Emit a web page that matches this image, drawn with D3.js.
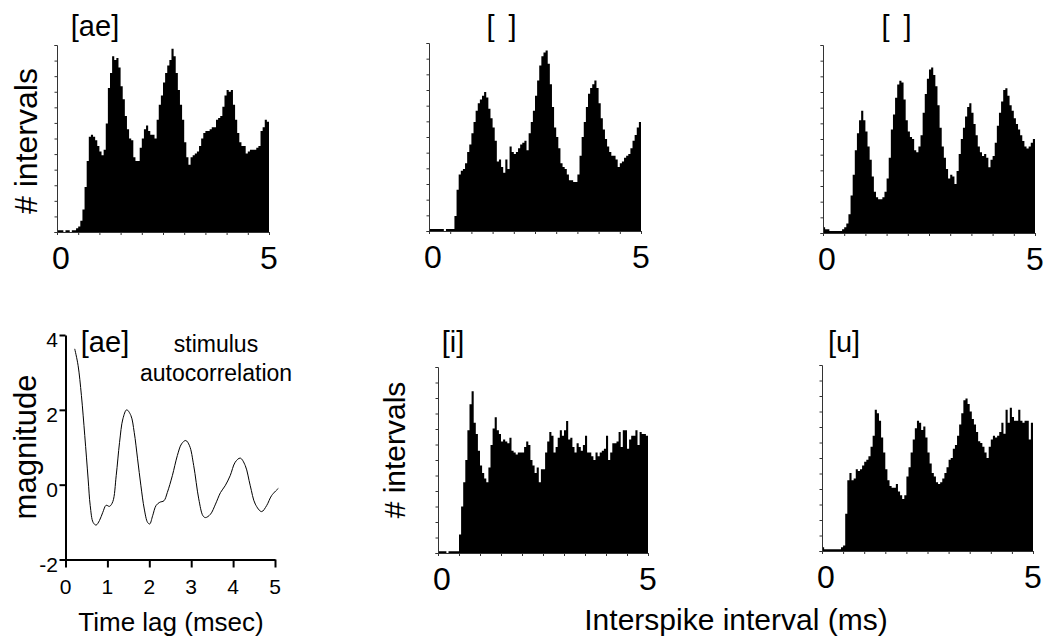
<!DOCTYPE html>
<html><head><meta charset="utf-8">
<script src="https://cdn.jsdelivr.net/npm/d3@7"></script>
<style>
body{margin:0;background:#fff}
text{font-family:"Liberation Sans",Arial,Helvetica,sans-serif;fill:#000}
</style>
</head><body>
<svg id="chart" width="1045" height="638"></svg>
<script>
// ---------- data ----------
const binWidth = 0.05;          // ms per histogram bin
const histTitles = ["[ae]", "[ ]", "[ ]", "[i]", "[u]"];
const histTickLabels = ["0", "5"];

const isiAE = [1,1,1,0,1,1,0,1,1,2, 3,6,12,24,38,51,52,51,49,46, 43,41,44,58,77,85,94,92,93,88,
  78,71,62,55,50,49,40,38,38,45, 50,55,57,54,52,52,50,60,68,73, 80,85,89,92,98,94,85,76,68,60,
  48,40,36,40,41,42,43,46,50,53, 54,54,55,56,56,60,61,62,67,73, 76,75,76,68,60,53,48,46,46,42,
  43,44,44,44,45,46,54,56,60,59];
const isiB = [1,1,1,1,1,1,1,0,1,1, 1,1,8,22,30,32,33,36,42,46, 52,58,64,68,70,72,74,71,65,60,
  55,48,37,38,34,31,38,33,45,42, 41,42,44,46,47,48,43,52,58,64, 72,80,88,93,95,96,89,78,66,55,
  50,44,36,34,33,30,27,27,26,26, 30,40,50,58,66,73,76,78,80,76, 68,60,54,49,45,42,40,40,38,34,
  36,37,39,40,41,44,48,51,55,58];
const isiC = [3,2,2,1,1,1,1,1,1,2, 3,5,10,20,31,44,53,60,65,60, 54,46,39,30,22,19,18,18,19,22,
  29,40,55,63,72,79,81,80,71,60, 54,51,50,44,43,46,52,64,74,82, 87,88,84,78,68,56,46,40,34,29,
  31,30,26,33,42,50,56,62,67,69, 64,58,52,46,43,41,42,40,35,39, 41,48,57,64,70,76,77,73,68,65,
  61,58,55,52,49,46,45,46,48,50];
const isiI = [1,1,1,1,0,1,1,1,1,1, 10,25,38,50,66,80,87,70,64,55, 47,43,40,38,46,58,67,73,66,64,
  60,61,60,59,62,55,54,53,54,54, 54,57,60,58,50,47,43,46,38,45, 45,54,60,65,63,54,57,62,66,63,
  66,71,61,62,57,54,59,57,55,58, 63,54,54,52,50,54,52,54,55,56, 63,50,54,59,59,60,65,57,66,66,
  56,61,63,63,66,58,65,64,64,63];
const isiU = [2,1,1,1,1,1,1,1,1,2, 3,20,38,42,38,39,44,43,44,46, 48,49,51,56,62,76,74,70,61,53,
  44,38,35,34,34,36,32,30,28,30, 40,45,53,60,66,70,69,65,67,61, 53,47,42,40,37,36,37,39,42,45,
  49,50,55,57,62,68,74,81,82,79, 75,71,68,64,59,58,56,53,50,56, 60,62,61,62,64,69,63,76,69,77,
  72,70,70,76,70,69,70,70,60,69];

const lagMs = [0.22,0.30,0.38,0.46,0.54,0.59,0.66,0.73,0.81,0.89,0.97,1.05,1.13,1.21,1.29,
  1.37,1.46,1.56,1.64,1.72,1.80,1.88,1.96,2.01,2.08,2.16,2.25,2.35,2.43,2.55,2.67,2.77,2.87,
  2.96,3.06,3.18,3.28,3.34,3.46,3.58,3.70,3.81,3.93,4.05,4.17,4.29,4.41,4.53,4.68,4.80,4.92,5.08];
const acMagnitude = [3.63,3.19,2.38,1.31,0.15,-0.56,-1.01,-1.08,-0.96,-0.74,-0.55,-0.58,-0.45,
  0.24,1.13,1.76,2.0,1.85,1.40,0.69,-0.03,-0.65,-1.01,-1.05,-0.83,-0.56,-0.47,-0.43,-0.21,0.24,
  0.78,1.09,1.18,1.04,0.51,-0.38,-0.83,-0.88,-0.79,-0.52,-0.21,-0.03,0.24,0.60,0.71,0.51,-0.03,
  -0.52,-0.72,-0.56,-0.29,-0.10];
const acTicksX = [0,1,2,3,4,5];
const acTicksY = [-2,0,2,4];

// ---------- layout ----------
const svg = d3.select("#chart");
const panels = [
  {data: isiAE, title: histTitles[0], x0: 57,  x1: 269,  yTop: 45,  yBase: 232, tx: 95,  ty: 36},
  {data: isiB,  title: histTitles[1], x0: 429, x1: 641,  yTop: 43,  yBase: 231, tx: 503, ty: 36},
  {data: isiC,  title: histTitles[2], x0: 823, x1: 1035, yTop: 45,  yBase: 233, tx: 898, ty: 36},
  {data: isiI,  title: histTitles[3], x0: 438, x1: 648,  yTop: 367, yBase: 553, tx: 453, ty: 352},
  {data: isiU,  title: histTitles[4], x0: 822, x1: 1033, yTop: 365, yBase: 551, tx: 844, ty: 352}
];

panels.forEach(p => {
  const x = d3.scaleLinear().domain([0, 5]).range([p.x0, p.x1]);
  const y = d3.scaleLinear().domain([0, 100]).range([p.yBase, p.yTop]);
  const g = svg.append("g");
  const bins = p.data.map((v, i) => ({t: i * binWidth, v}));
  bins.push({t: p.data.length * binWidth, v: p.data[p.data.length - 1]});
  const area = d3.area().x(d => x(d.t)).y0(y(0)).y1(d => y(d.v)).curve(d3.curveStepAfter);
  g.append("path").datum(bins).attr("d", area).attr("fill", "#000");
  // y axis with tiny ticks
  const ya = d3.axisLeft(y).tickValues(d3.range(0, 100.01, 100/12)).tickSize(2.5).tickFormat("");
  g.append("g").attr("transform", `translate(${p.x0},0)`).call(ya)
    .call(s => s.selectAll("path,line").attr("stroke", "#333").attr("stroke-width", 1));
  // x axis with tiny ticks
  const xa = d3.axisBottom(x).tickValues(d3.range(0, 5.01, 0.5)).tickSize(3).tickSizeOuter(0).tickFormat("");
  g.append("g").attr("transform", `translate(0,${p.yBase})`).call(xa)
    .call(s => s.selectAll("path,line").attr("stroke", "#333").attr("stroke-width", 1));
  // tick labels 0 and 5
  [0, 5].forEach((v, k) => {
    g.append("text").attr("x", x(v) + (k === 0 ? 4 : 0)).attr("y", p.yBase + 37)
      .attr("text-anchor", "middle").attr("font-size", 32).text(histTickLabels[k]);
  });
  g.append("text").attr("x", p.tx).attr("y", p.ty).attr("text-anchor", "middle")
    .attr("font-size", 29).attr("letter-spacing", p.title === "[ ]" ? 3 : 0).text(p.title);
});

// y labels "# intervals"
svg.append("text").attr("transform", "translate(37,141) rotate(-90)")
  .attr("text-anchor", "middle").attr("font-size", 32).text("# intervals");
svg.append("text").attr("transform", "translate(405,450) rotate(-90)")
  .attr("text-anchor", "middle").attr("font-size", 30).text("# intervals");

// common x label
svg.append("text").attr("x", 736).attr("y", 630).attr("text-anchor", "middle")
  .attr("font-size", 30).text("Interspike interval (ms)");

// ---------- stimulus autocorrelation panel ----------
const ax = d3.scaleLinear().domain([0, 5]).range([65.5, 275]);
const ay = d3.scaleLinear().domain([-2, 4]).range([559.5, 335]);
const ag = svg.append("g");
const line = d3.line().x((d, i) => ax(lagMs[i])).y(d => ay(d)).curve(d3.curveCatmullRom.alpha(0.5));
ag.append("path").datum(acMagnitude).attr("d", line)
  .attr("fill", "none").attr("stroke", "#000").attr("stroke-width", 1);

ag.append("g").attr("transform", `translate(0,${ay(-2)})`)
  .call(d3.axisBottom(ax).tickValues(acTicksX).tickSize(8).tickSizeOuter(0).tickFormat(""))
  .call(s => s.selectAll("path,line").attr("stroke", "#000").attr("stroke-width", 2));
ag.append("g").attr("transform", `translate(${ax(0)},0)`)
  .call(d3.axisLeft(ay).tickValues(acTicksY).tickSize(6).tickSizeOuter(0).tickFormat(""))
  .call(s => s.selectAll("path,line").attr("stroke", "#000").attr("stroke-width", 2));

acTicksX.forEach(v => {
  ag.append("text").attr("x", ax(v)).attr("y", 594).attr("text-anchor", "middle")
    .attr("font-size", 21).text(String(v));
});
acTicksY.forEach(v => {
  ag.append("text").attr("x", 58).attr("y", ay(v) + 12).attr("text-anchor", "end")
    .attr("font-size", 21).text(String(v));
});
ag.append("text").attr("transform", "translate(36,447) rotate(-90)")
  .attr("text-anchor", "middle").attr("font-size", 31).text("magnitude");
ag.append("text").attr("x", 105).attr("y", 352).attr("text-anchor", "middle")
  .attr("font-size", 29).text("[ae]");
ag.append("text").attr("x", 216).attr("y", 352).attr("text-anchor", "middle")
  .attr("font-size", 23).text("stimulus");
ag.append("text").attr("x", 216).attr("y", 381).attr("text-anchor", "middle")
  .attr("font-size", 23).text("autocorrelation");
ag.append("text").attr("x", 171).attr("y", 631).attr("text-anchor", "middle")
  .attr("font-size", 26).text("Time lag (msec)");
</script>
</body></html>
